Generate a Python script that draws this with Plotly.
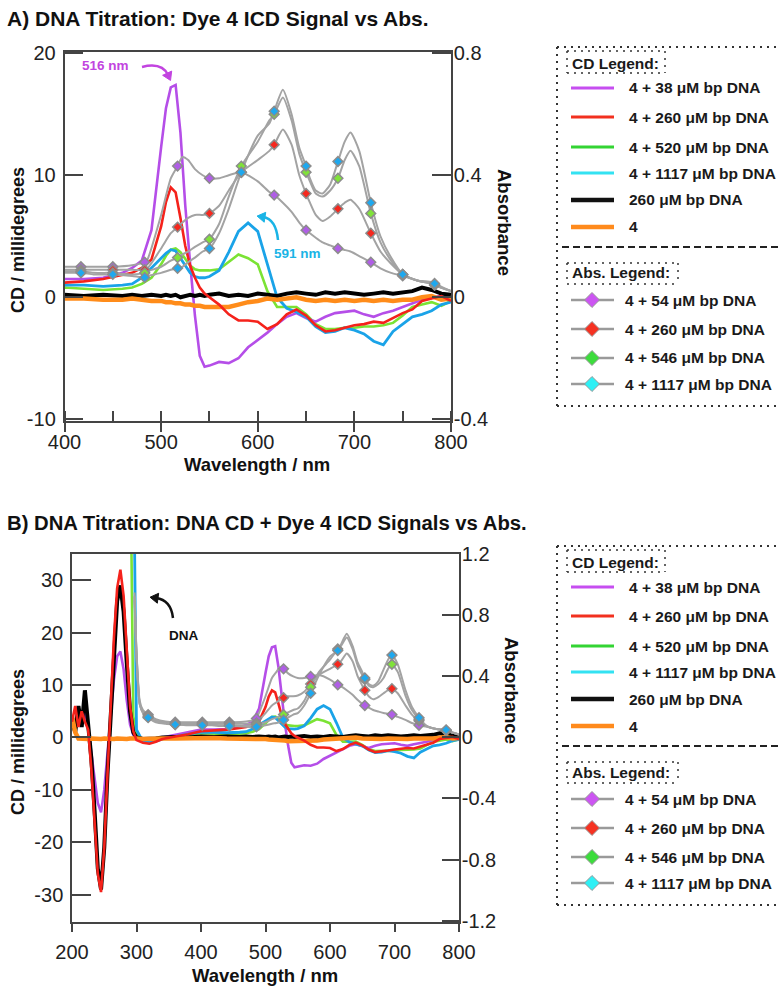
import math
import plotly.graph_objects as go

W, H = 780, 989
FONT = "Liberation Sans, Arial, sans-serif"

# ---------------- data ----------------
wavelength = [200, 205, 210, 215, 220, 225, 230, 235, 240, 245, 250, 255, 260, 265, 270, 275, 280, 285, 290, 295, 300,
              310, 320, 330, 340, 360, 380, 400, 420, 440, 460, 470, 480, 490, 500,
              505, 510, 515, 520, 525, 530, 535, 540, 545,
              550, 560, 570, 580, 590, 600, 610, 620, 630, 640, 650, 660, 670, 680, 690, 700, 710, 720, 730, 740,
              750, 760, 770, 780, 790, 800]

cd_38 = [4, 3, 5, 2.5, 5, 2, -3, -8, -12.5, -14.3, -10, -3, 4, 11, 15.5, 16.4, 13, 7, 2.5, 0.5, -0.3,
         -0.8, -0.8, -0.5, 0, 0.5, 1.0, 1.5, 1.5, 1.6, 2.0, 2.4, 3.0, 5.5, 12.3,
         15.5, 17.2, 17.4, 13.5, 7.5, 2.8, -1.5, -4.8, -5.7,
         -5.6, -5.3, -5.4, -5.0, -4.1, -3.5, -2.9, -2.2, -1.6, -1.3, -1.7, -2.0, -1.6, -1.3, -1.2, -1.1, -1.4, -1.6,
         -1.3, -1.1, -0.8, -0.5, -0.2, 0.0, 0.1, -0.1]

cd_260 = [3, 6, 2, 5, 3, 1.5, -6, -16, -26, -29.5, -21, -7, 6.5, 19, 28.5, 32, 27, 16, 6, 1.2, -0.5,
          -1.0, -1.2, -0.8, -0.3, 0.2, 0.6, 1.2, 1.3, 1.5, 1.8, 2.0, 2.4, 3.1, 5.8,
          7.8, 9.0, 8.6, 6.5, 4.2, 2.6, 1.6, 0.8, 0.3,
          0.0, -0.6, -1.4, -1.9, -1.9, -2.0, -2.6, -2.2, -1.4, -1.0, -1.5, -2.3, -2.8, -2.7, -2.5, -2.3, -2.2, -2.0,
          -2.1, -1.7, -1.3, -1.0, -0.3, -0.1, 0.1, -0.3]

cd_520 = [None] * 18 + [60, 4, 0.8,
          -0.8, -0.9, -0.6, -0.2, 0.2, 0.5, 0.8, 0.7, 0.6, 0.7, 0.8, 1.1, 1.6, 2.7,
          3.4, 3.9, 4.0, 3.7, 3.1, 2.6, 2.3, 2.2, 2.2,
          2.2, 2.3, 2.9, 3.5, 3.2, 2.7, 0.5, -0.8, -0.8, -0.8, -1.4, -2.2, -2.6, -2.6, -2.5, -2.5, -2.4, -2.4,
          -2.3, -2.1, -1.5, -0.8, -0.6, -0.4, -0.7, -0.3]

cd_1117 = [None] * 19 + [60, 1.5,
           -0.8, -1.0, -0.7, -0.3, 0.2, 0.6, 1.0, 1.0, 0.9, 1.0, 1.1, 1.6, 2.4, 3.2,
           3.6, 3.9, 3.8, 3.2, 2.6, 2.0, 1.7, 1.6, 1.6,
           1.7, 2.2, 3.7, 5.4, 6.1, 5.4, 2.8, 0.0, -0.9, -1.2, -1.6, -2.4, -2.9, -2.8, -2.5, -2.7, -3.0, -3.6,
           -3.9, -2.8, -2.2, -1.6, -1.4, -1.1, -0.6, -0.4]

cd_dna = [3, 1, 6, 2, 9, 2, -4, -14, -25, -29, -21, -7, 5, 17, 26, 29, 24, 14, 5, 1, 0,
          -0.3, -0.3, -0.2, 0.0, 0.1, 0.0, 0.2, 0.1, 0.2, 0.1, 0.2, 0.1, 0.2, 0.1,
          0.2, 0.1, 0.2, 0.0, 0.1, 0.2, 0.1, 0.2, 0.1,
          0.2, 0.3, 0.1, 0.2, 0.1, 0.3, 0.2, 0.1, 0.3, 0.4, 0.3, 0.2, 0.4, 0.3, 0.4, 0.3, 0.2, 0.3,
          0.4, 0.3, 0.4, 0.5, 0.8, 0.6, 0.3, 0.2]

cd_dye = [4, 1, -0.2, -0.3, -0.2, -0.3, -0.2, -0.3, -0.2, -0.3, -0.2, -0.3, -0.2, -0.3, -0.2, -0.3, -0.2, -0.3, -0.2, -0.3, -0.2,
          -0.3, -0.2, -0.3, -0.2, -0.2, -0.1, -0.1, -0.1, -0.2, -0.2, -0.1, -0.2, -0.3, -0.3,
          -0.4, -0.4, -0.5, -0.5, -0.6, -0.6, -0.7, -0.7, -0.8,
          -0.8, -0.8, -0.8, -0.6, -0.4, -0.3, -0.1, -0.2, -0.1, 0.0, -0.2, -0.3, -0.2, -0.3, -0.2, -0.3, -0.2, -0.3,
          -0.2, -0.3, -0.2, -0.2, 0.0, 0.1, -0.2, -0.1]

abs_wavelength = [297, 300, 305, 310, 318, 330, 345, 360, 380, 402, 417, 430, 444, 450, 470, 483, 486, 500, 510, 517,
                  522, 528, 535, 543, 550, 560, 570, 583, 600, 612, 617, 626, 635, 643, 650, 654, 660, 667, 675, 683,
                  690, 696, 705, 717, 727, 738, 750, 765, 780, 783, 800]

abs_54 = [0.95, 0.55, 0.24, 0.18, 0.15, 0.12, 0.105, 0.10, 0.10, 0.10, 0.10, 0.10, 0.10, 0.10, 0.105, 0.115, 0.125, 0.27, 0.39, 0.43,
          0.46, 0.45, 0.42, 0.40, 0.39, 0.39, 0.40, 0.41, 0.38, 0.345, 0.335, 0.31, 0.28, 0.245, 0.22, 0.21, 0.195, 0.18, 0.17, 0.16,
          0.155, 0.15, 0.135, 0.115, 0.095, 0.08, 0.07, 0.055, 0.045, 0.04, 0.02]

abs_260 = [0.90, 0.52, 0.22, 0.17, 0.14, 0.11, 0.10, 0.09, 0.09, 0.09, 0.09, 0.09, 0.09, 0.09, 0.09, 0.09, 0.095, 0.16, 0.21, 0.23,
           0.245, 0.26, 0.27, 0.27, 0.275, 0.30, 0.35, 0.41, 0.45, 0.48, 0.50, 0.55, 0.50, 0.40, 0.34, 0.31, 0.27, 0.25, 0.265, 0.29,
           0.31, 0.32, 0.29, 0.21, 0.15, 0.11, 0.075, 0.055, 0.045, 0.04, 0.02]

abs_546 = [0.92, 0.55, 0.22, 0.165, 0.135, 0.105, 0.095, 0.085, 0.085, 0.085, 0.085, 0.08, 0.08, 0.08, 0.075, 0.08, 0.085, 0.10, 0.12, 0.13,
           0.14, 0.15, 0.165, 0.18, 0.19, 0.24, 0.33, 0.43, 0.51, 0.58, 0.60, 0.655, 0.58, 0.47, 0.41, 0.38, 0.34, 0.33, 0.35, 0.39,
           0.45, 0.48, 0.43, 0.275, 0.18, 0.12, 0.075, 0.055, 0.045, 0.04, 0.02]

abs_1117 = [0.93, 0.57, 0.22, 0.16, 0.13, 0.10, 0.09, 0.085, 0.08, 0.08, 0.08, 0.075, 0.075, 0.075, 0.07, 0.065, 0.07, 0.08, 0.09, 0.095,
            0.10, 0.115, 0.13, 0.15, 0.16, 0.21, 0.29, 0.41, 0.53, 0.57, 0.61, 0.68, 0.60, 0.49, 0.43, 0.39, 0.35, 0.34, 0.37, 0.445,
            0.51, 0.54, 0.48, 0.31, 0.20, 0.13, 0.075, 0.055, 0.05, 0.045, 0.02]

marker_wl_a = [417, 450, 483, 517, 550, 583, 617, 650, 683, 717, 750, 783]
marker_wl_b = [318, 360, 402, 444, 486, 528, 570, 612, 654, 696, 738, 780]

cd_labels = ["4 + 38 \u03bcM bp DNA", "4 + 260 \u03bcM bp DNA", "4 + 520 \u03bcM bp DNA",
             "4 + 1117 \u03bcM bp DNA", "260 \u03bcM bp DNA", "4"]
abs_labels = ["4 + 54 \u03bcM bp DNA", "4 + 260 \u03bcM bp DNA", "4 + 546 \u03bcM bp DNA", "4 + 1117 \u03bcM bp DNA"]

x_ticks_a = [400, 500, 600, 700, 800]
y_ticks_a = [-10, 0, 10, 20]
y2_ticks_a = [-0.4, 0, 0.4, 0.8]
x_ticks_b = [200, 300, 400, 500, 600, 700, 800]
y_ticks_b = [-30, -20, -10, 0, 10, 20, 30]
y2_ticks_b = [-1.2, -0.8, -0.4, 0, 0.4, 0.8, 1.2]

# ---------------- styles ----------------
cd_series = [cd_38, cd_260, cd_520, cd_1117, cd_dna, cd_dye]
cd_colors = ["#b54ee8", "#f5221b", "#7be334", "#1aa3e8", "#000000", "#ff8c1a"]
cd_widths = [2.6, 2.6, 2.6, 2.8, 4.0, 4.5]
cd_order = [2, 0, 3, 4, 5, 1]
abs_series = [abs_54, abs_260, abs_546, abs_1117]
abs_colors = ["#b05ee6", "#f5281e", "#80e23a", "#1fa8ee"]

leg_line_colors = ["#c64ef0", "#f2301f", "#33d433", "#33e2f2", "#111111", "#ff8a1c"]
leg_line_widths = [3, 3, 3, 3, 4.5, 4.5]
leg_diamond_colors = ["#cc55f2", "#f53222", "#3ddc3d", "#2ef0f5"]


def fmt(v):
    return ("-" if v < 0 else "") + f"{abs(v):g}"


def fx(p):
    return p / W


def fy(p):
    return 1 - p / H


fig = go.Figure()


def add_panel(xa, ya, ya2, mwl):
    for vals in abs_series:
        fig.add_trace(go.Scatter(x=abs_wavelength, y=vals, mode="lines",
                                 line=dict(color="#a3a3a3", width=2, shape="spline", smoothing=0.6),
                                 xaxis=xa, yaxis=ya2, showlegend=False, hoverinfo="skip"))
    for i in cd_order:
        fig.add_trace(go.Scatter(x=wavelength, y=cd_series[i], mode="lines",
                                 line=dict(color=cd_colors[i], width=cd_widths[i]),
                                 xaxis=xa, yaxis=ya, showlegend=False, name=cd_labels[i]))
    for vals, col, lab in zip(abs_series, abs_colors, abs_labels):
        mx = [w for w in abs_wavelength if w in mwl]
        my = [v for w, v in zip(abs_wavelength, vals) if w in mwl]
        fig.add_trace(go.Scatter(x=mx, y=my, mode="markers",
                                 marker=dict(symbol="diamond", size=7.5, color=col,
                                             line=dict(color="#8c8c8c", width=1.5)),
                                 xaxis=xa, yaxis=ya2, showlegend=False, name=lab))


add_panel("x", "y", "y2", marker_wl_a)
add_panel("x2", "y3", "y4", marker_wl_b)

tickfont = dict(family=FONT, size=20, color="#222")
ax_line = dict(showline=True, linecolor="#444", linewidth=1.5, showgrid=False, zeroline=False,
               tickcolor="#444", tickwidth=1.5, tickfont=tickfont, automargin=False)

yA = [-10.14, 20.1]
yB = [-35.2, 35.0]
fig.update_layout(
    width=W, height=H, autosize=False, margin=dict(l=0, r=0, t=0, b=0, pad=0),
    plot_bgcolor="white", paper_bgcolor="white", showlegend=False,
    xaxis=dict(domain=[64.5 / W, 451 / W], range=[400, 800], anchor="y", mirror=True,
               ticks="outside", ticklen=9, tickvals=x_ticks_a, ticktext=[fmt(v) for v in x_ticks_a],
               ticklabelstandoff=-7,
               minor=dict(ticks="inside", ticklen=10, dtick=50, tick0=400, tickcolor="#444", tickwidth=1.5),
               **ax_line),
    yaxis=dict(domain=[1 - 421 / H, 1 - 52 / H], range=yA, anchor="x", ticks="inside", ticklen=19,
               tickvals=y_ticks_a, ticktext=[fmt(v) for v in y_ticks_a], ticklabelstandoff=3, **ax_line),
    yaxis2=dict(range=[yA[0] * 0.04, yA[1] * 0.04], overlaying="y", side="right", anchor="x",
                ticks="inside", ticklen=19, tickvals=y2_ticks_a, ticktext=[fmt(v) for v in y2_ticks_a],
                ticklabelstandoff=-3, **ax_line),
    xaxis2=dict(domain=[72 / W, 459 / W], range=[200, 800], anchor="y3", mirror=True,
                ticks="outside", ticklen=8, tickvals=x_ticks_b, ticktext=[fmt(v) for v in x_ticks_b],
                ticklabelstandoff=3, **ax_line),
    yaxis3=dict(domain=[1 - 922 / H, 1 - 554 / H], range=yB, anchor="x2", ticks="inside", ticklen=19,
                tickvals=y_ticks_b, ticktext=[fmt(v) for v in y_ticks_b], ticklabelstandoff=3, **ax_line),
    yaxis4=dict(range=[yB[0] / 29.1, yB[1] / 29.1], overlaying="y3", side="right", anchor="x2",
                ticks="inside", ticklen=17, tickvals=y2_ticks_b, ticktext=[fmt(v) for v in y2_ticks_b],
                ticklabelstandoff=-3, **ax_line),
)

shapes = []
annotations = []


def text(x, y, s, size=13, color="#1a1a1a", anchor="left", angle=0, bold=True):
    annotations.append(dict(x=fx(x), y=fy(y), xref="paper", yref="paper", showarrow=False,
                            text=f"<b>{s}</b>" if bold else s, textangle=angle,
                            font=dict(family=FONT, size=size, color=color),
                            xanchor=anchor, yanchor="middle"))


def hline(x0, x1, y, color, width, dash="solid"):
    shapes.append(dict(type="line", xref="paper", yref="paper", x0=fx(x0), x1=fx(x1), y0=fy(y), y1=fy(y),
                       line=dict(color=color, width=width, dash=dash)))


def vline(x, y0, y1, color, width, dash="solid"):
    shapes.append(dict(type="line", xref="paper", yref="paper", x0=fx(x), x1=fx(x), y0=fy(y0), y1=fy(y1),
                       line=dict(color=color, width=width, dash=dash)))


def dotted_box(x0, y0, x1, y1, right=True, width=2):
    d = "2px,5px"
    hline(x0, x1, y0, "#333", width, d)
    hline(x0, x1, y1, "#333", width, d)
    vline(x0, y0, y1, "#333", width, d)
    if right:
        vline(x1, y0, y1, "#333", width, d)


def diamond(cx, cy, r, color):
    pts = [(cx - r, cy), (cx, cy - r), (cx + r, cy), (cx, cy + r)]
    path = "M " + " L ".join(f"{fx(a):.5f},{fy(b):.5f}" for a, b in pts) + " Z"
    shapes.append(dict(type="path", xref="paper", yref="paper", path=path, fillcolor=color,
                       line=dict(color="#999", width=1)))


def curved_arrow(p0, c, p1, color, width=2.5):
    path = f"M {fx(p0[0]):.5f},{fy(p0[1]):.5f} Q {fx(c[0]):.5f},{fy(c[1]):.5f} {fx(p1[0]):.5f},{fy(p1[1]):.5f}"
    shapes.append(dict(type="path", xref="paper", yref="paper", path=path, line=dict(color=color, width=width)))
    dx, dy = p1[0] - c[0], p1[1] - c[1]
    L = math.hypot(dx, dy)
    ux, uy = dx / L, dy / L
    nx, ny = -uy, ux
    tip = (p1[0] + ux * 6, p1[1] + uy * 6)
    b1 = (p1[0] - ux * 2 + nx * 5, p1[1] - uy * 2 + ny * 5)
    b2 = (p1[0] - ux * 2 - nx * 5, p1[1] - uy * 2 - ny * 5)
    path2 = "M " + " L ".join(f"{fx(a):.5f},{fy(b):.5f}" for a, b in [tip, b1, b2]) + " Z"
    shapes.append(dict(type="path", xref="paper", yref="paper", path=path2, fillcolor=color,
                       line=dict(color=color, width=1)))


LEG_FONT = 15.5


def draw_legend(off):
    hline(557, 780, 47 + off, "#333", 2, "2px,5px")
    hline(557, 780, 406 + off, "#333", 2, "2px,5px")
    vline(557, 47 + off, 406 + off, "#333", 2, "2px,5px")
    dotted_box(567, 51 + off, 665, 73 + off, width=1.5)
    text(570, 63 + off, "CD Legend:", LEG_FONT)
    cd_y = [88, 117, 147, 173, 200, 227]
    for lab, col, lw, yy in zip(cd_labels, leg_line_colors, leg_line_widths, cd_y):
        hline(571, 614, yy + off, col, lw)
        text(627, yy + off, lab, LEG_FONT)
    hline(562, 780, 247 + off, "#222", 2, "7px,4px")
    dotted_box(567, 263 + off, 678, 284 + off, width=1.5)
    text(570, 273 + off, "Abs. Legend:", LEG_FONT)
    abs_y = [300, 329, 358, 384]
    for lab, col, yy in zip(abs_labels, leg_diamond_colors, abs_y):
        hline(571, 614, yy + off, "#9a9a9a", 2.5)
        diamond(592, yy + off, 7.5, col)
        text(623, yy + off, lab, LEG_FONT)


draw_legend(0)
draw_legend(499)

text(5, 18, "A) DNA Titration: Dye 4 ICD Signal vs Abs.", 21, "#111")
text(5, 523, "B) DNA Titration: DNA CD + Dye 4 ICD Signals vs Abs.", 20.3, "#111")
text(257, 464, "Wavelength / nm", 18.5, "#111", anchor="center")
text(18, 240, "CD / millidegrees", 18, "#111", anchor="center", angle=-90)
text(505, 222, "Absorbance", 18.5, "#111", anchor="center", angle=90)
text(265, 975, "Wavelength / nm", 18.5, "#111", anchor="center")
text(18, 742, "CD / millidegrees", 18, "#111", anchor="center", angle=-90)
text(512, 690, "Absorbance", 18.5, "#111", anchor="center", angle=90)

text(106, 65, "516 nm", 13.5, "#c244e0", anchor="center")
curved_arrow((142, 67), (162, 62), (168, 75), "#c244e0")
text(297, 253, "591 nm", 13.5, "#1ab4e6", anchor="center")
curved_arrow((278, 240), (276, 219), (263, 217), "#1ab4e6")
text(183, 635, "DNA", 13.5, "#111", anchor="center")
curved_arrow((173, 618), (171, 600), (156, 598), "#111")

fig.update_layout(shapes=shapes, annotations=annotations)
fig.write_html("out.html", config={"displayModeBar": False},
               post_script="document.body.style.margin='0px';document.body.style.padding='0px';")
